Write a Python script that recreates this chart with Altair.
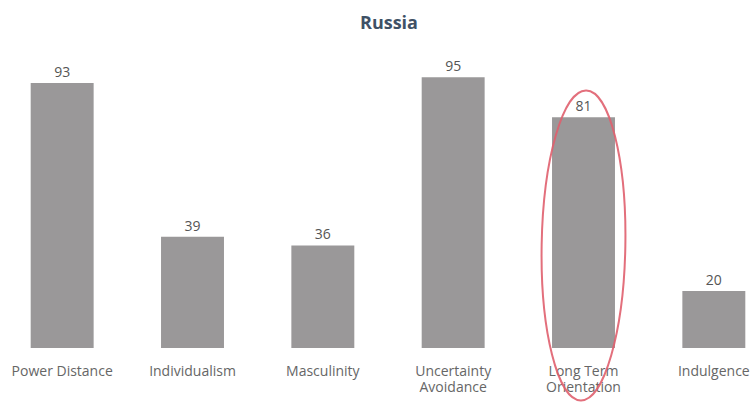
import altair as alt
import pandas as pd

categories = ["Power Distance", "Individualism", "Masculinity",
              "Uncertainty Avoidance", "Long Term Orientation", "Indulgence"]
scores = [93, 39, 36, 95, 81, 20]
highlight = ["Long Term Orientation"]
highlight_mid = [36]

df = pd.DataFrame({"dimension": categories, "score": scores})
hl = pd.DataFrame({"dimension": highlight, "score": highlight_mid})

xscale = alt.Scale(domain=categories, range=[-3, 779], paddingInner=0.517, paddingOuter=0.2585)
yscale = alt.Scale(domain=[0, 100])

label_expr = ("datum.label == 'Uncertainty Avoidance' ? ['Uncertainty', 'Avoidance'] : "
              "datum.label == 'Long Term Orientation' ? ['Long Term', 'Orientation'] : datum.label")

base = alt.Chart(df)

bars = base.mark_bar(color="#9a9899").encode(
    x=alt.X("dimension:N", scale=xscale, sort=categories, title=None,
            axis=alt.Axis(labelAngle=0, domain=False, ticks=False, grid=False, labelPadding=16,
                          labelFontSize=14, labelColor="#666666", labelFont="Open Sans",
                          labelLineHeight=16, labelExpr=label_expr, labelLimit=200)),
    y=alt.Y("score:Q", scale=yscale, axis=None),
)

values = base.mark_text(baseline="bottom", dy=-3, fontSize=14, color="#555555",
                        font="Open Sans").encode(
    x=alt.X("dimension:N", scale=xscale, sort=categories),
    y=alt.Y("score:Q", scale=yscale),
    text="score:Q",
)

ellipse_path = "M -0.27,0 A 0.27,1 0 1,0 0.27,0 A 0.27,1 0 1,0 -0.27,0 Z"
ring = alt.Chart(hl).mark_point(shape=ellipse_path, size=96100, filled=False,
                                 stroke="#e0606e", strokeWidth=2, opacity=0.9, angle=1).encode(
    x=alt.X("dimension:N", scale=xscale, sort=categories),
    y=alt.Y("score:Q", scale=yscale),
)

chart = (bars + values + ring).properties(
    width=756, height=285,
    background="white",
    title=alt.TitleParams("Russia", fontSize=18, font="Open Sans", fontWeight="bold",
                          color="#3f5166", anchor="middle", offset=27, dx=11),
    padding={"left": 0, "top": 63, "right": 0, "bottom": 55},
    autosize=alt.AutoSizeParams(type="none"),
).configure_view(strokeWidth=0, stroke="transparent")

chart.save("out.html", embed_options={"renderer": "svg", "actions": False})
